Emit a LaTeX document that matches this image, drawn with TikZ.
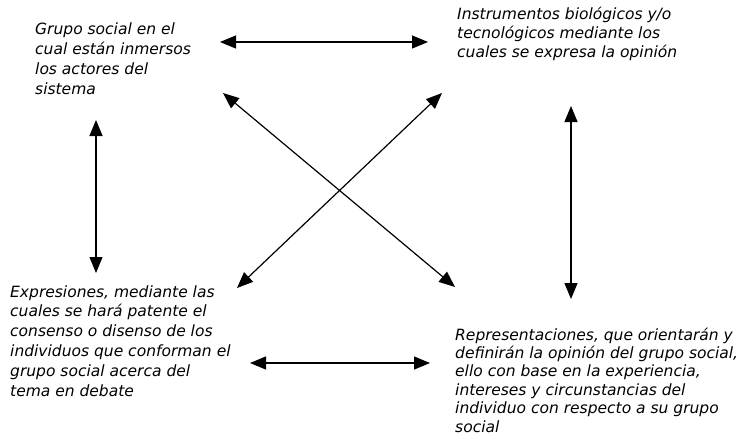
\documentclass[tikz,border=0pt]{standalone}
\usepackage{fontspec}
\setmainfont{DejaVu Sans}
\usetikzlibrary{arrows.meta}
\tikzset{
  txt/.style={align=left, inner sep=0pt, anchor=base west, font=\fontsize{15.5}{#1}\selectfont\itshape},
  txt/.default=19.5,
  rel/.style={line width=1.2pt, {Triangle[length=16pt,width=13pt]}-{Triangle[length=16pt,width=13pt]}}
}
\begin{document}
\begin{tikzpicture}[x=1pt,y=-1pt]
\useasboundingbox (0,0) rectangle (746,442);
\node[txt=20] (grupo) at (35,94) {Grupo social en el\\cual están inmersos\\los actores del\\sistema};
\node[txt=19] (instrumentos) at (457,57) {Instrumentos biológicos y/o\\tecnológicos mediante los\\cuales se expresa la opinión};
\node[txt=19.8] (expresiones) at (10,396) {Expresiones, mediante las\\cuales se hará patente el\\consenso o disenso de los\\individuos que conforman el\\grupo social acerca del\\tema en debate};
\node[txt=18.4] (representaciones) at (455,432) {Representaciones, que orientarán y\\definirán la opinión del grupo social,\\ello con base en la experiencia,\\intereses y circunstancias del\\individuo con respecto a su grupo\\social};
% ends of the arrows
\coordinate (gi1) at (220,42);
\coordinate (gi2) at (428,42);
\coordinate (er1) at (250,363);
\coordinate (er2) at (430,363);
\coordinate (ge1) at (96,120);
\coordinate (ge2) at (96,273);
\coordinate (ir1) at (571,106);
\coordinate (ir2) at (571,299);
\coordinate (gr1) at (223,93);
\coordinate (gr2) at (455,287);
\coordinate (ie1) at (442,93);
\coordinate (ie2) at (237,288);
\draw[rel] (gi1) -- (gi2);
\draw[rel] (er1) -- (er2);
\draw[rel] (ge1) -- (ge2);
\draw[rel] (ir1) -- (ir2);
\draw[rel] (gr1) -- (gr2);
\draw[rel] (ie1) -- (ie2);
\end{tikzpicture}
\end{document}
